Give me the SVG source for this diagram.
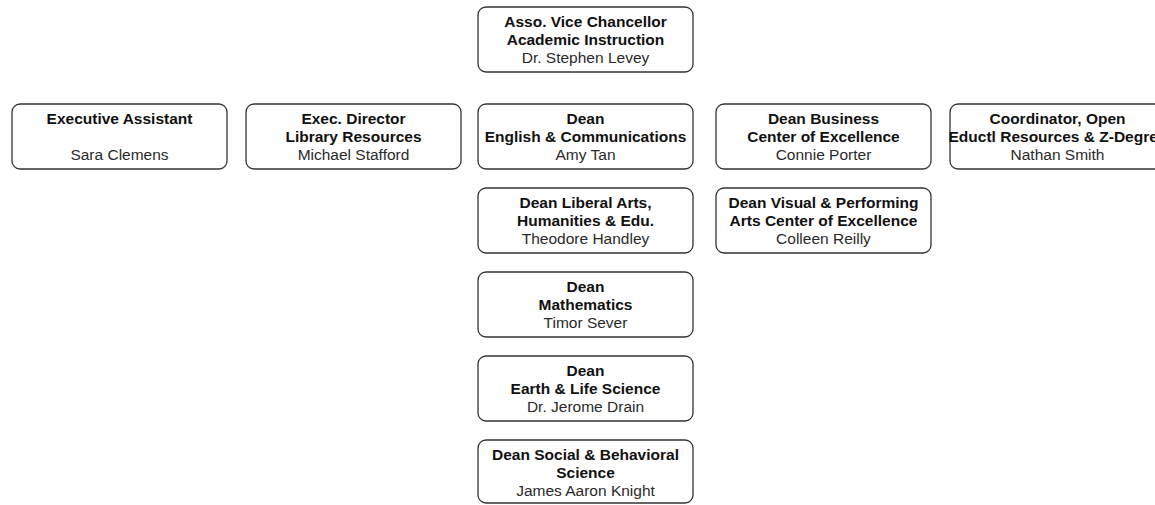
<svg xmlns="http://www.w3.org/2000/svg" width="1155" height="505" viewBox="0 0 1155 505">
  <style>
    .box { fill: #ffffff; stroke: #333333; stroke-width: 1.3; }
    text { font-family: "Liberation Sans", Arial, sans-serif; font-size: 15.5px; text-anchor: middle; }
    .t { font-weight: bold; fill: #111111; }
    .n { fill: #2a2a2a; }
  </style>
  <rect width="1155" height="505" fill="#ffffff"/>
  <g id="connectors"></g>

  <g id="avc">
    <rect class="box" x="478" y="7" width="215" height="65" rx="8"/>
    <text class="t" x="585.5" y="27">Asso. Vice Chancellor</text>
    <text class="t" x="585.5" y="45">Academic Instruction</text>
    <text class="n" x="585.5" y="63">Dr. Stephen Levey</text>
  </g>

  <g id="exec-assistant">
    <rect class="box" x="12" y="104" width="215" height="65" rx="8"/>
    <text class="t" x="119.5" y="124">Executive Assistant</text>
    <text class="n" x="119.5" y="160">Sara Clemens</text>
  </g>

  <g id="library">
    <rect class="box" x="246" y="104" width="215" height="65" rx="8"/>
    <text class="t" x="353.5" y="124">Exec. Director</text>
    <text class="t" x="353.5" y="142">Library Resources</text>
    <text class="n" x="353.5" y="160">Michael Stafford</text>
  </g>

  <g id="dean-english">
    <rect class="box" x="478" y="104" width="215" height="65" rx="8"/>
    <text class="t" x="585.5" y="124">Dean</text>
    <text class="t" x="585.5" y="142">English &amp; Communications</text>
    <text class="n" x="585.5" y="160">Amy Tan</text>
  </g>

  <g id="dean-business">
    <rect class="box" x="716" y="104" width="215" height="65" rx="8"/>
    <text class="t" x="823.5" y="124">Dean Business</text>
    <text class="t" x="823.5" y="142">Center of Excellence</text>
    <text class="n" x="823.5" y="160">Connie Porter</text>
  </g>

  <g id="oer-coordinator">
    <rect class="box" x="950" y="104" width="215" height="65" rx="8"/>
    <text class="t" x="1057.5" y="124">Coordinator, Open</text>
    <text class="t" x="1057.5" y="142">Eductl Resources &amp; Z-Degree</text>
    <text class="n" x="1057.5" y="160">Nathan Smith</text>
  </g>

  <g id="dean-liberal-arts">
    <rect class="box" x="478" y="188" width="215" height="65" rx="8"/>
    <text class="t" x="585.5" y="208">Dean Liberal Arts,</text>
    <text class="t" x="585.5" y="226">Humanities &amp; Edu.</text>
    <text class="n" x="585.5" y="244">Theodore Handley</text>
  </g>

  <g id="dean-vapa">
    <rect class="box" x="716" y="188" width="215" height="65" rx="8"/>
    <text class="t" x="823.5" y="208">Dean Visual &amp; Performing</text>
    <text class="t" x="823.5" y="226">Arts Center of Excellence</text>
    <text class="n" x="823.5" y="244">Colleen Reilly</text>
  </g>

  <g id="dean-math">
    <rect class="box" x="478" y="272" width="215" height="65" rx="8"/>
    <text class="t" x="585.5" y="292">Dean</text>
    <text class="t" x="585.5" y="310">Mathematics</text>
    <text class="n" x="585.5" y="328">Timor Sever</text>
  </g>

  <g id="dean-earth-life">
    <rect class="box" x="478" y="356" width="215" height="65" rx="8"/>
    <text class="t" x="585.5" y="376">Dean</text>
    <text class="t" x="585.5" y="394">Earth &amp; Life Science</text>
    <text class="n" x="585.5" y="412">Dr. Jerome Drain</text>
  </g>

  <g id="dean-social">
    <rect class="box" x="478" y="440" width="215" height="63" rx="8"/>
    <text class="t" x="585.5" y="460">Dean Social &amp; Behavioral</text>
    <text class="t" x="585.5" y="478">Science</text>
    <text class="n" x="585.5" y="496">James Aaron Knight</text>
  </g>
</svg>
